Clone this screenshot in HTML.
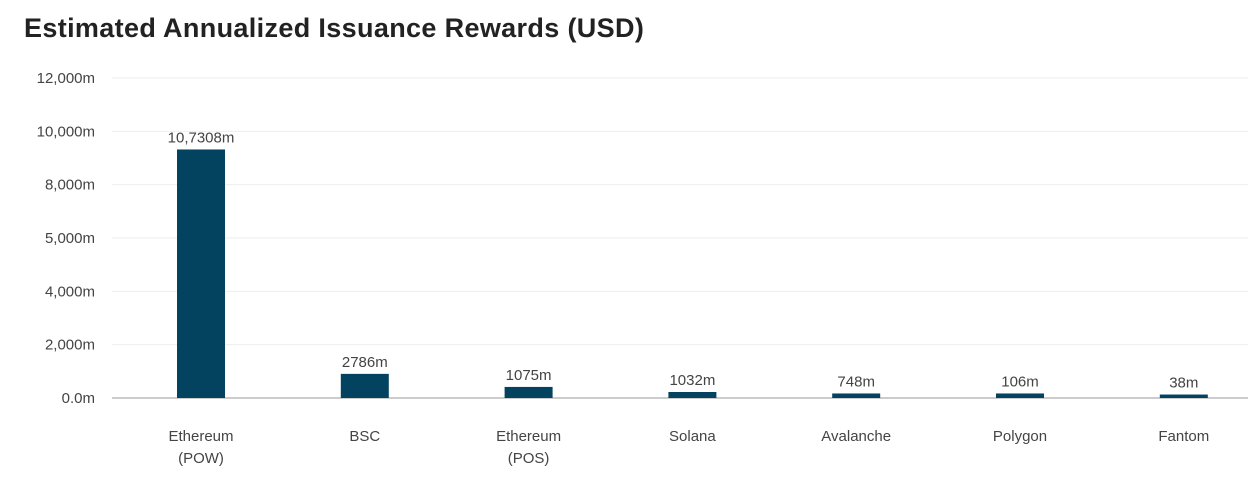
<!DOCTYPE html>
<html><head><meta charset="utf-8"><style>
body{margin:0;background:#fff;width:1259px;height:483px;overflow:hidden;font-family:"Liberation Sans",sans-serif}
h1{position:absolute;left:24px;top:13px;margin:0;font-size:27px;font-weight:bold;color:#222;letter-spacing:0.35px;white-space:nowrap}
svg{position:absolute;left:0;top:0}
text{font-family:"Liberation Sans",sans-serif;font-size:15px;fill:#444}
</style></head><body>
<h1>Estimated Annualized Issuance Rewards (USD)</h1>
<svg id="c" width="1259" height="483"></svg>
<script>
const categories=[["Ethereum","(POW)"],["BSC"],["Ethereum","(POS)"],["Solana"],["Avalanche"],["Polygon"],["Fantom"]];
const values=[9320,905,415,225,170,170,130];
const valueLabels=["10,7308m","2786m","1075m","1032m","748m","106m","38m"];
const tickValues=[0,2000,4000,6000,8000,10000,12000];
const tickLabels=["0.0m","2,000m","4,000m","5,000m","8,000m","10,000m","12,000m"];
const svg=document.getElementById('c');const NS='http://www.w3.org/2000/svg';
const y0=398,yTop=78,vmax=12000;
const y=v=>y0-(v/vmax)*(y0-yTop);
const step=163.8,x=i=>201+i*step,bw=48;
function el(t,a){const e=document.createElementNS(NS,t);for(const k in a)e.setAttribute(k,a[k]);svg.appendChild(e);return e;}
tickValues.forEach((v,i)=>{
 const g=el('line',{x1:112,x2:1248,y1:y(v),y2:y(v),stroke:i==0?'#bbb':'#eee','stroke-width':i==0?1.5:1});
 
 
 const t=el('text',{x:95,y:y(v)+5,'text-anchor':'end'});t.textContent=tickLabels[i];
 
 
});
values.forEach((v,i)=>{
 const r=el('rect',{x:x(i)-bw/2,y:y(v),width:bw,height:y0-y(v),fill:'#03435f'});
 
 
 const t=el('text',{x:x(i),y:y(v)-7,'text-anchor':'middle'});t.textContent=valueLabels[i];
 
 
 categories[i].forEach((s,j)=>{
  const c=el('text',{x:x(i),y:441+j*22,'text-anchor':'middle'});c.textContent=s;
  
  
 });
});
</script>
</body></html>
